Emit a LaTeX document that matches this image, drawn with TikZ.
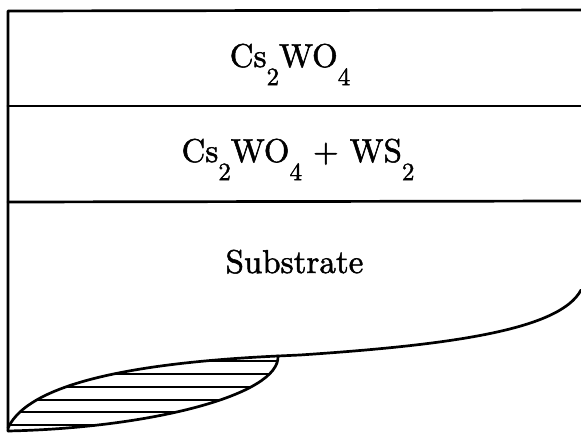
\documentclass[tikz,border=0pt]{standalone}
\usepackage{fontspec}
\newfontfamily\heavy{lmroman10-regular.otf}[FakeBold=1.5]
\usetikzlibrary{calc}
\newcommand\lowsub[1]{\raisebox{-0.55em}{\fontsize{25}{25}\selectfont #1}}
\tikzset{
  edge/.style={line width=2.7pt, line join=round, line cap=round},
  hatch/.style={line width=2.6pt},
  label/.style={anchor=base, inner sep=0pt, font=\heavy\fontsize{33}{40}\selectfont}
}
\begin{document}
\begin{tikzpicture}[x=1pt,y=-1pt]
\useasboundingbox (0,0) rectangle (581,438);
% corner and edge coordinates
\coordinate (tl) at (8,11);
\coordinate (tr) at (581,10);
\coordinate (l1) at (8,106);
\coordinate (r1) at (581,106);
\coordinate (l2) at (8,202);
\coordinate (r2) at (581,201);
\coordinate (bl) at (8,431);
\coordinate (lensL) at (8,428);
\coordinate (lensR) at (278,356);
\coordinate (flat) at (300,355);
\coordinate (rEnd) at (581,290);
% frame
\draw[edge] (bl) -- (tl) -- (tr);
\draw[edge] (l1) -- (r1);
\draw[edge] (l2) -- (r2);
% substrate boundary
\draw[edge] (rEnd) .. controls (560,330) and (450,345) .. (flat) -- (lensR);
% hatched inclusion
\begin{scope}
  \clip (lensR) .. controls (150,362) and (30,380) .. (lensL) -- (bl)
        .. controls (150,428) and (280,395) .. (lensR) -- cycle;
  \foreach \yy in {361,374,387,400,412,425} {
    \draw[hatch] (0,\yy) -- (300,\yy);
  }
\end{scope}
\draw[edge] (lensR) .. controls (150,362) and (30,380) .. (lensL);
\draw[edge] (lensR) .. controls (280,395) and (150,428) .. (bl);
% labels
\node[label] (t1) at (290,67) {Cs\lowsub{2}WO\lowsub{4}};
\node[label] (t2) at (298,162) {Cs\lowsub{2}WO\lowsub{4} + WS\lowsub{2}};
\node[label] (t3) at (294.5,273) {Substrate};
\end{tikzpicture}
\end{document}
